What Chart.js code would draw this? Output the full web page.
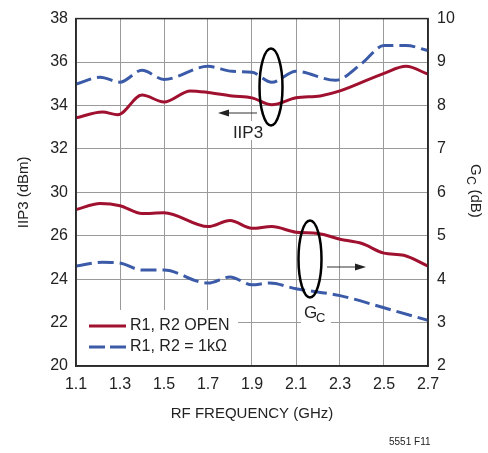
<!DOCTYPE html>
<html><head><meta charset="utf-8">
<script src="https://cdn.jsdelivr.net/npm/chart.js@4/dist/chart.umd.min.js"></script>
<style>html,body{margin:0;padding:0;background:#fff;}canvas{display:block;}</style>
</head><body>
<canvas id="c" width="488" height="453"></canvas>
<script>
const FONT = '"Liberation Sans Narrow", "Arial Narrow", "Liberation Sans", Arial, sans-serif';

// Tick labels (as printed on the original chart)
const leftTickLabels = ["20", "22", "24", "26", "30", "32", "34", "36", "38"];
const xTickLabels = ["1.1", "1.3", "1.5", "1.7", "1.9", "2.1", "2.3", "2.5", "2.7"];

// IIP3 (dBm), R1, R2 OPEN
const iip3OpenFreq = [1.10, 1.22, 1.29, 1.40, 1.50, 1.62, 1.70, 1.81, 1.90, 1.99, 2.10, 2.21, 2.30, 2.50, 2.60, 2.70];
const iip3Open     = [33.43, 33.70, 33.57, 34.48, 34.16, 34.67, 34.60, 34.44, 34.35, 34.03, 34.35, 34.44, 34.67, 35.48, 35.80, 35.44];

// IIP3 (dBm), R1, R2 = 1k
const iip3OneKFreq = [1.10, 1.21, 1.30, 1.40, 1.50, 1.70, 1.81, 1.90, 1.99, 2.10, 2.28, 2.40, 2.50, 2.60, 2.70];
const iip3OneK     = [34.98, 35.30, 35.07, 35.62, 35.20, 35.80, 35.57, 35.53, 35.07, 35.57, 35.16, 35.94, 36.76, 36.76, 36.53];

// Gc (dB), R1, R2 OPEN
const gcOpenFreq = [1.10, 1.21, 1.30, 1.40, 1.50, 1.70, 1.80, 1.90, 1.99, 2.10, 2.20, 2.30, 2.40, 2.50, 2.59, 2.70];
const gcOpen     = [5.60, 5.74, 5.69, 5.51, 5.53, 5.21, 5.35, 5.17, 5.21, 5.08, 5.05, 4.92, 4.82, 4.60, 4.55, 4.30];

// Gc (dB), R1, R2 = 1k
const gcOneKFreq = [1.10, 1.22, 1.30, 1.40, 1.50, 1.66, 1.70, 1.80, 1.90, 1.98, 2.10, 2.30, 2.50, 2.70];
const gcOneK     = [4.30, 4.39, 4.37, 4.21, 4.21, 3.94, 3.91, 4.05, 3.87, 3.91, 3.78, 3.62, 3.34, 3.05];

const RED = '#a0102f';
const BLUE = '#3b5ba8';
const GRID = '#9a9a9a';
const DARK = '#2a2a2a';

function pts(xs, ys) { return xs.map((x, i) => ({ x: x, y: ys[i] })); }

const annot = {
  id: 'annot',
  afterDatasetsDraw(chart) {
    const ctx = chart.ctx;
    const a = chart.chartArea;
    ctx.save();
    // frame
    ctx.strokeStyle = DARK; ctx.lineWidth = 1.5;
    ctx.strokeRect(a.left, a.top, a.right - a.left, a.bottom - a.top);

    // legend
    const lx0 = a.left + 1, ly0 = 310;
    ctx.fillStyle = '#fff';
    ctx.fillRect(lx0, ly0, 238 - lx0, a.bottom - ly0 - 1);
    ctx.lineWidth = 3;
    ctx.strokeStyle = RED; ctx.setLineDash([]);
    ctx.beginPath(); ctx.moveTo(89, 326); ctx.lineTo(126, 326); ctx.stroke();
    ctx.strokeStyle = BLUE; ctx.setLineDash([16, 5]);
    ctx.beginPath(); ctx.moveTo(89, 347); ctx.lineTo(126, 347); ctx.stroke();
    ctx.setLineDash([]);
    ctx.fillStyle = '#222';
    ctx.font = '16px ' + FONT;
    ctx.textBaseline = 'middle'; ctx.textAlign = 'left';
    ctx.fillText(chart.data.datasets[0].label, 130, 326);
    ctx.fillText(chart.data.datasets[1].label, 130, 347);

    // IIP3 annotation
    ctx.strokeStyle = '#000'; ctx.lineWidth = 2.5;
    ctx.beginPath(); ctx.ellipse(271, 87, 11.5, 38.5, 0, 0, Math.PI * 2); ctx.stroke();
    ctx.strokeStyle = '#333'; ctx.lineWidth = 1.2;
    ctx.beginPath(); ctx.moveTo(257, 113); ctx.lineTo(224, 113); ctx.stroke();
    ctx.fillStyle = '#222';
    ctx.beginPath(); ctx.moveTo(218, 113); ctx.lineTo(229, 109.5); ctx.lineTo(229, 116.5); ctx.closePath(); ctx.fill();
    ctx.fillStyle = '#fff'; ctx.fillRect(232, 121, 32, 19);
    ctx.fillStyle = '#222'; ctx.font = '17px ' + FONT;
    ctx.textAlign = 'center'; ctx.textBaseline = 'alphabetic';
    ctx.fillText('IIP3', 248, 138);

    // Gc annotation
    ctx.strokeStyle = '#000'; ctx.lineWidth = 2.5;
    ctx.beginPath(); ctx.ellipse(310, 259, 11.5, 38.5, 0, 0, Math.PI * 2); ctx.stroke();
    ctx.strokeStyle = '#333'; ctx.lineWidth = 1.2;
    ctx.beginPath(); ctx.moveTo(327, 267); ctx.lineTo(360, 267); ctx.stroke();
    ctx.fillStyle = '#222';
    ctx.beginPath(); ctx.moveTo(366, 267); ctx.lineTo(355, 263.5); ctx.lineTo(355, 270.5); ctx.closePath(); ctx.fill();
    ctx.fillStyle = '#fff'; ctx.fillRect(301, 304, 30, 21);
    ctx.fillStyle = '#222';
    ctx.textAlign = 'left';
    ctx.font = '17px ' + FONT; ctx.fillText('G', 304, 318);
    ctx.font = '13px ' + FONT; ctx.fillText('C', 316, 322);

    // right axis title G_C (dB)
    ctx.save();
    ctx.translate(471, 164);
    ctx.rotate(Math.PI / 2);
    ctx.fillStyle = '#222';
    ctx.textAlign = 'left'; ctx.textBaseline = 'alphabetic';
    ctx.font = '15px ' + FONT; ctx.fillText('G', 0, 0);
    const gw = ctx.measureText('G').width;
    ctx.font = '12px ' + FONT; ctx.fillText('C', gw + 0.5, 4);
    const cw = ctx.measureText('C').width;
    ctx.font = '15px ' + FONT; ctx.fillText(' (dB)', gw + cw + 1, 0);
    ctx.restore();

    // footnote
    ctx.fillStyle = '#222'; ctx.font = '10px ' + FONT;
    ctx.textAlign = 'left'; ctx.textBaseline = 'middle';
    ctx.fillText('5551 F11', 389, 442);
    ctx.restore();
  }
};

new Chart(document.getElementById('c'), {
  type: 'line',
  data: {
    datasets: [
      { label: 'R1, R2 OPEN', data: pts(iip3OpenFreq, iip3Open), yAxisID: 'yL', borderColor: RED, borderWidth: 3, pointRadius: 0, cubicInterpolationMode: 'monotone', fill: false },
      { label: 'R1, R2 = 1kΩ', data: pts(iip3OneKFreq, iip3OneK), yAxisID: 'yL', borderColor: BLUE, borderWidth: 3, borderDash: [16, 6], pointRadius: 0, cubicInterpolationMode: 'monotone', fill: false },
      { label: 'R1, R2 OPEN', data: pts(gcOpenFreq, gcOpen), yAxisID: 'yR', borderColor: RED, borderWidth: 3, pointRadius: 0, cubicInterpolationMode: 'monotone', fill: false },
      { label: 'R1, R2 = 1kΩ', data: pts(gcOneKFreq, gcOneK), yAxisID: 'yR', borderColor: BLUE, borderWidth: 3, borderDash: [16, 6], pointRadius: 0, cubicInterpolationMode: 'monotone', fill: false }
    ]
  },
  options: {
    responsive: false,
    animation: false,
    events: [],
    layout: { padding: { top: 15, left: 0, right: 0, bottom: 0 } },
    plugins: { legend: { display: false }, tooltip: { enabled: false } },
    scales: {
      x: {
        type: 'linear', min: 1.1, max: 2.7,
        afterBuildTicks: (s) => { s.ticks = xTickLabels.map(v => ({ value: parseFloat(v) })); },
        afterFit: (s) => { s.height = 87; },
        ticks: { color: '#222', font: { family: FONT, size: 16 }, padding: 9, maxRotation: 0, autoSkip: false,
                 callback: (v) => xTickLabels.find(l => Math.abs(parseFloat(l) - v) < 1e-6) || '' },
        grid: { color: GRID, lineWidth: 1, drawTicks: false },
        border: { color: DARK, width: 1.5 },
        title: { display: true, text: 'RF FREQUENCY (GHz)', color: '#222', font: { family: FONT, size: 15 }, padding: { top: 4, bottom: 30 } }
      },
      yL: {
        type: 'linear', position: 'left', min: 22, max: 38,
        afterBuildTicks: (s) => { s.ticks = leftTickLabels.map((l, i) => ({ value: 22 + 2 * i })); },
        afterFit: (s) => { s.width = 76; },
        ticks: { color: '#222', font: { family: FONT, size: 16 }, padding: 8,
                 callback: (v) => leftTickLabels[Math.round((v - 22) / 2)] },
        grid: { color: GRID, lineWidth: 1, drawTicks: false },
        border: { color: DARK, width: 1.5 },
        title: { display: true, text: 'IIP3 (dBm)', color: '#222', font: { family: FONT, size: 15 }, padding: { top: 15, bottom: 0 } }
      },
      yR: {
        type: 'linear', position: 'right', min: 2, max: 10,
        ticks: { stepSize: 1, color: '#222', font: { family: FONT, size: 16 }, padding: 9 },
        afterFit: (s) => { s.width = 60; },
        grid: { drawOnChartArea: false, drawTicks: false },
        border: { color: DARK, width: 1.5 }
      }
    }
  },
  plugins: [annot]
});
</script>
</body></html>
